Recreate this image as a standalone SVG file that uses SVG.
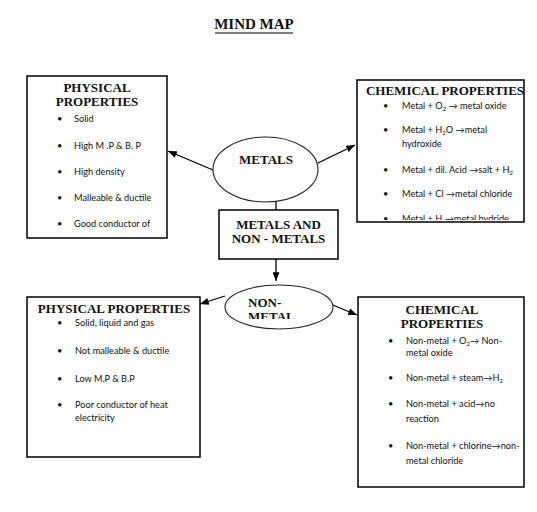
<svg xmlns="http://www.w3.org/2000/svg" width="537" height="512" viewBox="0 0 537 512">
<style>
.box{fill:#fff;stroke:#000;stroke-width:1.5}
.ell{fill:#fff;stroke:#222;stroke-width:1.1}
.hd{font-family:"Liberation Serif","Times New Roman",serif;font-weight:bold;font-size:13px;fill:#111}
.tx{font-family:Lato,"DejaVu Sans",sans-serif;font-size:9.2px;fill:#111}
.bl{font-family:Lato,"DejaVu Sans",sans-serif;font-size:9.2px;fill:#111}
.sub{font-size:6px}
.conn{stroke:#000;stroke-width:1.3;fill:none;marker-end:url(#ah)}
</style>
<defs>
<marker id="ah" viewBox="0 0 10 8" refX="10" refY="4" markerWidth="9" markerHeight="7" markerUnits="userSpaceOnUse" orient="auto">
<path d="M0,0 L10,4 L0,8 Z" fill="#000"/>
</marker>
<clipPath id="clipTR"><rect x="357" y="80" width="167" height="140"/></clipPath>
<clipPath id="clipNM"><rect x="230" y="288" width="100" height="31"/></clipPath>
</defs>
<rect width="537" height="512" fill="#fff"/>

<g id="title">
<text x="254" y="29" text-anchor="middle" class="hd" style="font-size:15px">MIND MAP</text>
<line x1="215" y1="33" x2="293" y2="33" stroke="#000" stroke-width="1.2"/>
</g>

<g id="connectors">
<line class="conn" x1="213" y1="170" x2="168" y2="151"/>
<line class="conn" x1="318" y1="163" x2="355" y2="145"/>
<line class="conn" x1="276" y1="210" x2="276" y2="187"/>
<line class="conn" x1="276" y1="259" x2="276" y2="281"/>
<line class="conn" x1="225" y1="296" x2="200" y2="304"/>
<line class="conn" x1="328" y1="303" x2="357" y2="315"/>
</g>

<g id="metals">
<ellipse class="ell" cx="265.5" cy="169.5" rx="52.5" ry="32.5"/>
<text x="266" y="164" text-anchor="middle" class="hd">METALS</text>
</g>

<g id="center">
<rect class="box" x="219" y="210" width="119" height="49"/>
<text x="278.5" y="229" text-anchor="middle" class="hd">METALS AND</text>
<text x="278.5" y="243" text-anchor="middle" class="hd">NON - METALS</text>
</g>

<g id="nonmetal">
<ellipse class="ell" cx="279" cy="307" rx="54" ry="22"/>
<g clip-path="url(#clipNM)">
<text x="248" y="307" class="hd">NON-</text>
<text x="248" y="321" class="hd">METAL</text>
</g>
</g>

<g id="metal-physical">
<rect class="box" x="27" y="76" width="140" height="162"/>
<text x="97" y="92" text-anchor="middle" class="hd">PHYSICAL</text>
<text x="97" y="106" text-anchor="middle" class="hd">PROPERTIES</text>
<text x="57" y="122" class="bl">•</text><text x="74" y="122" class="tx">Solid</text>
<text x="57" y="149" class="bl">•</text><text x="74" y="149" class="tx">High M .P &amp; B. P</text>
<text x="57" y="175" class="bl">•</text><text x="74" y="175" class="tx">High density</text>
<text x="57" y="201" class="bl">•</text><text x="74" y="201" class="tx">Malleable &amp; ductile</text>
<text x="57" y="227" class="bl">•</text><text x="74" y="227" class="tx">Good conductor of</text>
</g>

<g id="metal-chemical">
<rect class="box" x="357" y="80" width="167" height="142"/>
<text x="445" y="95" text-anchor="middle" class="hd">CHEMICAL PROPERTIES</text>
<g clip-path="url(#clipTR)">
<text x="383" y="109" class="bl">•</text><text x="402" y="109" class="tx">Metal + O<tspan class="sub" dy="2">2</tspan><tspan dy="-2"> → metal oxide</tspan></text>
<text x="383" y="133" class="bl">•</text><text x="402" y="133" class="tx">Metal + H<tspan class="sub" dy="2">2</tspan><tspan dy="-2">O →metal</tspan></text>
<text x="402" y="147" class="tx">hydroxide</text>
<text x="383" y="173" class="bl">•</text><text x="402" y="173" class="tx">Metal + dil. Acid →salt + H<tspan class="sub" dy="2">2</tspan></text>
<text x="383" y="197" class="bl">•</text><text x="402" y="197" class="tx">Metal + Cl →metal chloride</text>
<text x="383" y="222" class="bl">•</text><text x="402" y="222" class="tx">Metal + H →metal hydride</text>
</g>
</g>

<g id="nonmetal-physical">
<rect class="box" x="27" y="297" width="173" height="160"/>
<text x="114" y="313" text-anchor="middle" class="hd">PHYSICAL PROPERTIES</text>
<text x="57" y="326" class="bl">•</text><text x="75" y="326" class="tx">Solid, liquid and gas</text>
<text x="57" y="354" class="bl">•</text><text x="75" y="354" class="tx">Not malleable &amp; ductile</text>
<text x="57" y="382" class="bl">•</text><text x="75" y="382" class="tx">Low  M.P &amp; B.P</text>
<text x="57" y="408" class="bl">•</text><text x="75" y="408" class="tx">Poor conductor of heat</text>
<text x="75" y="421" class="tx">electricity</text>
</g>

<g id="nonmetal-chemical">
<rect class="box" x="358" y="297" width="166" height="190"/>
<text x="442" y="314" text-anchor="middle" class="hd">CHEMICAL</text>
<text x="442" y="328" text-anchor="middle" class="hd">PROPERTIES</text>
<text x="388" y="344" class="bl">•</text><text x="406" y="344" class="tx">Non-metal + O<tspan class="sub" dy="2">2</tspan><tspan dy="-2">→ Non-</tspan></text>
<text x="406" y="356" class="tx">metal oxide</text>
<text x="388" y="381" class="bl">•</text><text x="406" y="381" class="tx">Non-metal + steam→H<tspan class="sub" dy="2">2</tspan></text>
<text x="388" y="407" class="bl">•</text><text x="406" y="407" class="tx">Non-metal + acid→no</text>
<text x="406" y="422" class="tx">reaction</text>
<text x="388" y="449" class="bl">•</text><text x="406" y="449" class="tx">Non-metal + chlorine→non-</text>
<text x="406" y="464" class="tx">metal chloride</text>
</g>
</svg>
